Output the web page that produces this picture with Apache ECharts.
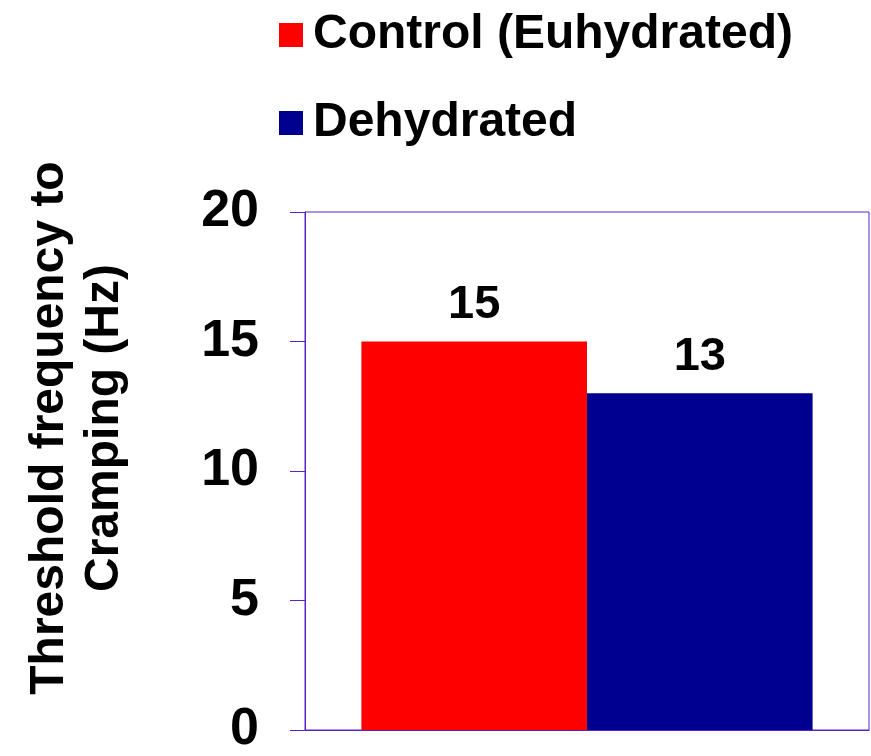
<!DOCTYPE html>
<html>
<head>
<meta charset="utf-8">
<script src="https://cdn.jsdelivr.net/npm/echarts@6/dist/echarts.min.js"></script>
<style>
  html, body { margin: 0; padding: 0; background: #ffffff; }
  #chart { width: 871px; height: 756px; }
</style>
</head>
<body>
<div id="chart"></div>
<script>
// Threshold frequency to cramping, control vs dehydrated
const categories = [''];
const seriesNames = ['Control (Euhydrated)', 'Dehydrated'];
const controlValues = [15];
const dehydratedValues = [13];
const yTicks = { min: 0, max: 20, interval: 5 };
const yTitle = 'Threshold frequency to\nCramping (Hz)';

const FONT = 'Arial, "Liberation Sans", sans-serif';
const AXIS_COLOR = '#5a22c8';

const chart = echarts.init(document.getElementById('chart'), null, { renderer: 'canvas' });

const labelStyle = {
  show: true,
  position: 'top',
  distance: 13,
  color: '#000000',
  fontFamily: FONT,
  fontWeight: 'bold',
  fontSize: 47
};

chart.setOption({
  animation: false,
  backgroundColor: '#ffffff',
  legend: {
    orient: 'vertical',
    left: 274,
    top: 6,
    padding: 5,
    itemWidth: 24,
    itemHeight: 24,
    itemGap: 40,
    icon: 'rect',
    textStyle: {
      color: '#000000',
      fontFamily: FONT,
      fontWeight: 'bold',
      fontSize: 48,
      padding: [0, 0, 0, 5]
    },
    data: seriesNames
  },
  grid: {
    left: 305,
    right: 2,
    top: 212,
    bottom: 24,
    show: true,
    borderColor: AXIS_COLOR,
    borderWidth: 1,
    backgroundColor: 'transparent'
  },
  xAxis: {
    type: 'category',
    data: categories,
    axisLine: { show: true, lineStyle: { color: AXIS_COLOR, width: 1 } },
    axisTick: { show: false },
    axisLabel: { show: false },
    splitLine: { show: false }
  },
  yAxis: {
    type: 'value',
    min: yTicks.min,
    max: yTicks.max,
    interval: yTicks.interval,
    axisLine: { show: true, lineStyle: { color: AXIS_COLOR, width: 1 } },
    axisTick: { show: true, inside: false, length: 15, lineStyle: { color: AXIS_COLOR, width: 1 } },
    axisLabel: {
      margin: 46,
      color: '#000000',
      fontFamily: FONT,
      fontWeight: 'bold',
      fontSize: 52
    },
    splitLine: { show: false }
  },
  graphic: [{
    type: 'text',
    x: 77,
    y: 428,
    rotation: Math.PI / 2,
    style: {
      text: yTitle,
      align: 'center',
      verticalAlign: 'middle',
      lineHeight: 55,
      fill: '#000000',
      font: 'bold 48px ' + FONT
    }
  }],
  series: [
    {
      name: seriesNames[0],
      type: 'bar',
      data: controlValues,
      barGap: '0%',
      barCategoryGap: '20%',
      itemStyle: { color: '#ff0000' },
      label: labelStyle
    },
    {
      name: seriesNames[1],
      type: 'bar',
      data: dehydratedValues,
      barGap: '0%',
      barCategoryGap: '20%',
      itemStyle: { color: '#000090' },
      label: labelStyle
    }
  ]
});
</script>
</body>
</html>
